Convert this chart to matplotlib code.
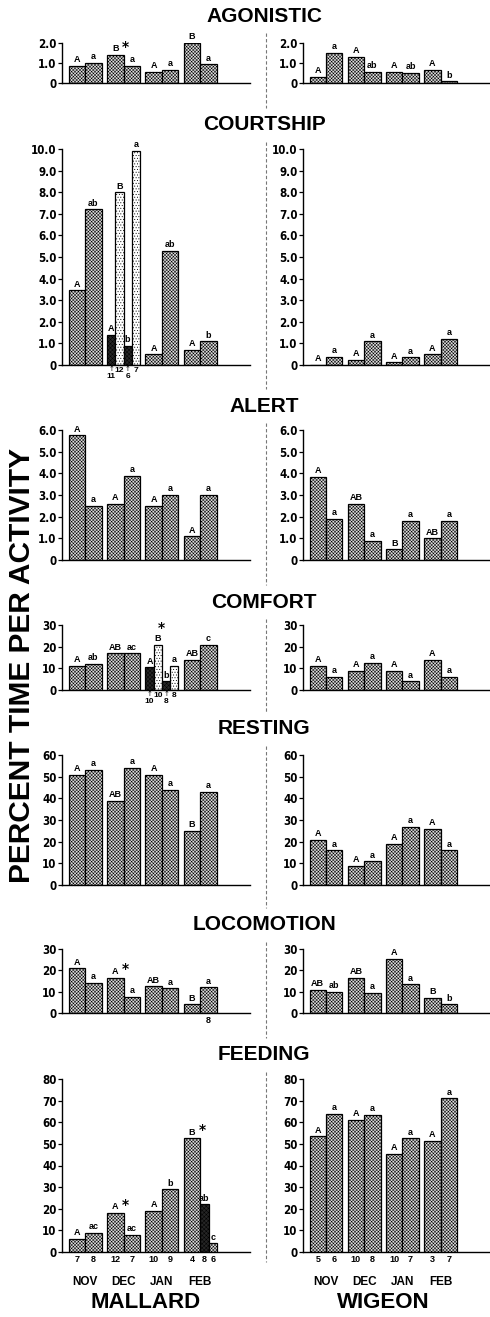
import matplotlib
matplotlib.use("Agg")
import matplotlib.pyplot as plt
from matplotlib.lines import Line2D

W, H = 490, 1317

months = ["NOV", "DEC", "JAN", "FEB"]
species = ["MALLARD", "WIGEON"]
behaviours = ["AGONISTIC", "COURTSHIP", "ALERT", "COMFORT", "RESTING", "LOCOMOTION", "FEEDING"]

# each month group: 2 bars (male, female), 4 bars (split groups), 3 bars (Feb feeding)
mal_agonistic = [[0.85, 1.0], [1.4, 0.85], [0.55, 0.65], [2.0, 0.93]]
mal_agonistic_lbl = [["A", "a"], ["B*", "a"], ["A", "a"], ["B", "a"]]
wig_agonistic = [[0.3, 1.5], [1.3, 0.55], [0.55, 0.52], [0.65, 0.08]]
wig_agonistic_lbl = [["A", "a"], ["A", "ab"], ["A", "ab"], ["A", "b"]]

mal_courtship = [[3.45, 7.2], [1.4, 8.0, 0.9, 9.9], [0.5, 5.3], [0.7, 1.1]]
mal_courtship_lbl = [["A", "ab"], ["A", "B", "b", "a"], ["A", "ab"], ["A", "b"]]
mal_courtship_n = [None, ["11", "12", "6", "7"], None, None]
wig_courtship = [[0.02, 0.38], [0.25, 1.1], [0.12, 0.35], [0.5, 1.2]]
wig_courtship_lbl = [["A", "a"], ["A", "a"], ["A", "a"], ["A", "a"]]

mal_alert = [[5.75, 2.5], [2.6, 3.9], [2.5, 3.0], [1.1, 3.0]]
mal_alert_lbl = [["A", "a"], ["A", "a"], ["A", "a"], ["A", "a"]]
wig_alert = [[3.85, 1.9], [2.6, 0.9], [0.5, 1.8], [1.0, 1.8]]
wig_alert_lbl = [["A", "a"], ["AB", "a"], ["B", "a"], ["AB", "a"]]

mal_comfort = [[11, 12], [17, 17], [10.5, 21, 4, 11], [14, 21]]
mal_comfort_lbl = [["A", "ab"], ["AB", "ac"], ["A", "^B", "b", "a"], ["AB", "c"]]
mal_comfort_n = [None, None, ["10", "10", "8", "8"], None]
wig_comfort = [[11, 6], [9, 12.5], [9, 4], [14, 6]]
wig_comfort_lbl = [["A", "a"], ["A", "a"], ["A", "a"], ["A", "a"]]

mal_resting = [[51, 53], [39, 54], [51, 44], [25, 43]]
mal_resting_lbl = [["A", "a"], ["AB", "a"], ["A", "a"], ["B", "a"]]
wig_resting = [[21, 16], [9, 11], [19, 27], [26, 16]]
wig_resting_lbl = [["A", "a"], ["A", "a"], ["A", "a"], ["A", "a"]]

mal_locomotion = [[21, 14], [16.5, 7.5], [12.5, 11.5], [4, 12]]
mal_locomotion_lbl = [["A", "a"], ["A*", "a"], ["AB", "a"], ["B", "a"]]
mal_locomotion_n = [None, None, None, ["", "8"]]
wig_locomotion = [[11, 10], [16.5, 9.5], [25.5, 13.5], [7, 4]]
wig_locomotion_lbl = [["AB", "ab"], ["AB", "a"], ["A", "a"], ["B", "b"]]

mal_feeding = [[6, 9], [18, 8], [19, 29], [52.5, 22, 4]]
mal_feeding_lbl = [["A", "ac"], ["A*", "ac"], ["A", "b"], ["B*", "ab", "c"]]
mal_feeding_n = [["7", "8"], ["12", "7"], ["10", "9"], ["4", "8", "6"]]
wig_feeding = [[53.5, 64], [61, 63.5], [45.5, 52.5], [51.5, 71]]
wig_feeding_lbl = [["A", "a"], ["A", "a"], ["A", "a"], ["A", "a"]]
wig_feeding_n = [["5", "6"], ["10", "8"], ["10", "7"], ["3", "7"]]

yscale = [(2.0, 1.0), (10.0, 1.0), (6.0, 1.0), (30, 10), (60, 10), (30, 10), (80, 10)]

# layout in pixels: (axes top, baseline, title centre)
rows_px = [(43, 83, 16), (149, 365, 125), (430, 560, 406), (625, 690, 602),
           (755, 885, 729), (949, 1013, 925), (1079, 1252, 1055)]
cols_px = [(62, 250), (303, 490)]

SANS = ["Liberation Sans", "DejaVu Sans"]

fig = plt.figure(figsize=(W / 100, H / 100), dpi=100)
plt.rcParams["hatch.linewidth"] = 0.35


def fx(p):
    return p / W


def fy(p):
    return 1 - p / H


def bar_layout(n):
    if n == 2:
        return [1, 1], ["m", "m"]
    if n == 4:
        return [0.5] * 4, ["d", "l", "d", "l"]
    return [1, 0.5, 0.5], ["m", "d", "m"]


def draw_panel(ax, groups, labels, ymax, step, samples=None):
    for i, (vals, lbls) in enumerate(zip(groups, labels)):
        widths, kinds = bar_layout(len(vals))
        x = 0.4 + 2.33 * i
        for j, (v, w, k) in enumerate(zip(vals, widths, kinds)):
            if k == "m":
                fc, hatch = "#dcdcdc", "xxxxxxxxxx"
            elif k == "d":
                fc, hatch = "#262626", "xxxxxxxx"
            else:
                fc, hatch = "white", "......"
            ax.bar(x + w / 2, v, width=w, facecolor=fc, edgecolor="black",
                   hatch=hatch, linewidth=0.9)
            lab = lbls[j]
            star = None
            if lab.endswith("*"):
                lab, star = lab[:-1], "right"
            elif lab.startswith("^"):
                lab, star = lab[1:], "above"
            ax.annotate(lab, (x + w / 2, v), xytext=(0, 1.2), textcoords="offset points",
                        ha="center", va="bottom", fontsize=6.5, fontweight="bold",
                        family=SANS, annotation_clip=False)
            if star == "right":
                ax.annotate("*", (x + w / 2, v), xytext=(4.5, 1), textcoords="offset points",
                            ha="left", va="bottom", fontsize=10, fontweight="bold",
                            annotation_clip=False)
            elif star == "above":
                ax.annotate("*", (x + w / 2, v), xytext=(2.5, 7), textcoords="offset points",
                            ha="center", va="bottom", fontsize=10, fontweight="bold",
                            annotation_clip=False)
            if samples is not None and samples[i] is not None:
                s = samples[i][j]
                if len(vals) == 4:
                    if j % 2 == 0:
                        ax.annotate("\u2191", (x + w / 2, 0), xytext=(0, -1), textcoords="offset points",
                                    ha="center", va="top", fontsize=5, annotation_clip=False)
                        ax.annotate(s, (x + w / 2, 0), xytext=(0, -6), textcoords="offset points",
                                    ha="center", va="top", fontsize=6, fontweight="bold",
                                    family=SANS, annotation_clip=False)
                    else:
                        ax.annotate(s, (x + w / 2, 0), xytext=(0, -1.5), textcoords="offset points",
                                    ha="center", va="top", fontsize=6, fontweight="bold",
                                    family=SANS, annotation_clip=False)
                else:
                    ax.annotate(s, (x + w / 2, 0), xytext=(0, -2), textcoords="offset points",
                                ha="center", va="top", fontsize=6.5, fontweight="bold",
                                family=SANS, annotation_clip=False)
            x += w
    ax.set_ylim(0, ymax)
    ax.set_xlim(0, 11.4)
    ticks = [step * k for k in range(int(round(ymax / step)) + 1)]
    ax.set_yticks(ticks)
    if step < 5:
        ax.set_yticklabels(["0"] + [f"{t:.1f}" for t in ticks[1:]])
    else:
        ax.set_yticklabels([f"{t:g}" for t in ticks])
    for lbl in ax.get_yticklabels():
        lbl.set_family(["DejaVu Sans"])
        lbl.set_fontstretch("condensed")
        lbl.set_fontweight("bold")
        lbl.set_fontsize(8.3)
    ax.set_xticks([])
    ax.tick_params(axis="y", length=3, width=0.9, pad=1)
    for sp in ["top", "right"]:
        ax.spines[sp].set_visible(False)
    ax.spines["left"].set_linewidth(1.0)
    ax.spines["bottom"].set_linewidth(1.0)
    ax.set_facecolor("none")


mal_data = [mal_agonistic, mal_courtship, mal_alert, mal_comfort, mal_resting, mal_locomotion, mal_feeding]
mal_lbls = [mal_agonistic_lbl, mal_courtship_lbl, mal_alert_lbl, mal_comfort_lbl, mal_resting_lbl,
            mal_locomotion_lbl, mal_feeding_lbl]
mal_ns = [None, mal_courtship_n, None, mal_comfort_n, None, mal_locomotion_n, mal_feeding_n]
wig_data = [wig_agonistic, wig_courtship, wig_alert, wig_comfort, wig_resting, wig_locomotion, wig_feeding]
wig_lbls = [wig_agonistic_lbl, wig_courtship_lbl, wig_alert_lbl, wig_comfort_lbl, wig_resting_lbl,
            wig_locomotion_lbl, wig_feeding_lbl]
wig_ns = [None, None, None, None, None, None, wig_feeding_n]

for r, (top, base, tcy) in enumerate(rows_px):
    ymax, step = yscale[r]
    for c, (x0, x1) in enumerate(cols_px):
        ax = fig.add_axes([fx(x0), fy(base), fx(x1) - fx(x0), (base - top) / H])
        if c == 0:
            draw_panel(ax, mal_data[r], mal_lbls[r], ymax, step, mal_ns[r])
        else:
            draw_panel(ax, wig_data[r], wig_lbls[r], ymax, step, wig_ns[r])
        if r == len(rows_px) - 1:
            for i, m in enumerate(months):
                xc = 0.4 + 2.33 * i + 1.0
                ax.annotate(m, (xc, 0), xytext=(0, -17), textcoords="offset points",
                            ha="center", va="top", fontsize=8.5, fontweight="bold",
                            family=SANS, annotation_clip=False)
    fig.text(fx(264), fy(tcy), behaviours[r], ha="center", va="center",
             fontsize=15, fontweight="bold", family=SANS)

# dashed divider between species
tcs = [t for _, _, t in rows_px]
for i, t in enumerate(tcs):
    y0 = t + 17
    y1 = tcs[i + 1] - 17 if i + 1 < len(tcs) else 1262
    fig.add_artist(Line2D([fx(266), fx(266)], [fy(y0), fy(y1)], transform=fig.transFigure,
                          color="#777777", lw=0.8, ls=(0, (3, 2))))

fig.text(fx(22), fy(665), "PERCENT TIME PER ACTIVITY", rotation=90, ha="center", va="center",
         fontsize=21.5, fontweight="bold", family=SANS)
fig.text(fx(146), fy(1303), species[0], ha="center", va="center", fontsize=16,
         fontweight="bold", family=SANS)
fig.text(fx(383), fy(1303), species[1], ha="center", va="center", fontsize=16,
         fontweight="bold", family=SANS)

fig.savefig("out.png", dpi=100, facecolor="white")
